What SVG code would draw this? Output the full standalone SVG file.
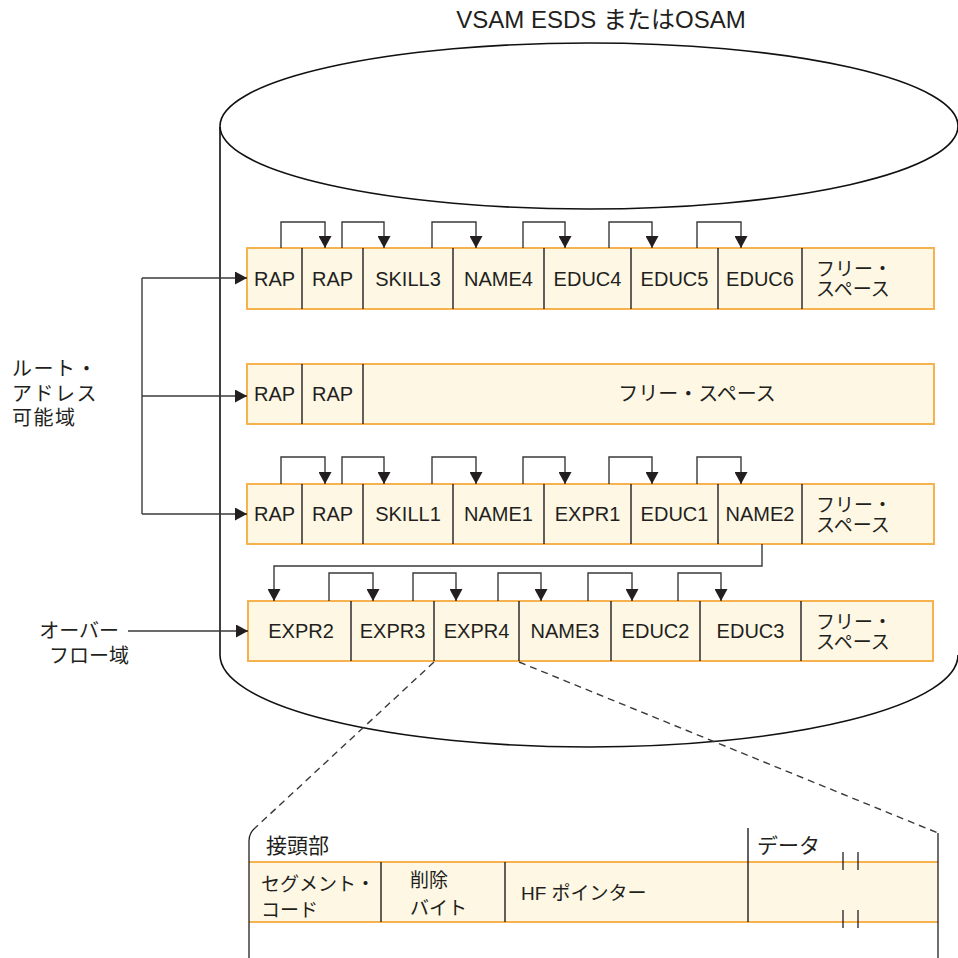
<svg xmlns="http://www.w3.org/2000/svg" width="958" height="958" viewBox="0 0 958 958">
<style>
text{font-family:"Liberation Sans","Noto Sans CJK JP",sans-serif;fill:#231f20}
.cell{font-size:20px;text-anchor:middle}
.jp{font-size:20px}
.fs{font-size:19px}
.box{fill:#fef7e4;stroke:#f5b24e;stroke-width:2}
.div{stroke:#231f20;stroke-width:1.4}
.cyl{fill:none;stroke:#111;stroke-width:1.6}
.conn path{fill:none;stroke:#3a3a3a;stroke-width:1.4}
.dash{fill:none;stroke:#231f20;stroke-width:1.2;stroke-dasharray:7 5}
.brk{fill:none;stroke:#231f20;stroke-width:1.3}
</style>
<defs>
<marker id="ah" markerWidth="12" markerHeight="13" refX="12" refY="6.5" orient="auto" markerUnits="userSpaceOnUse"><path d="M0,0 L12,6.5 L0,13 z" fill="#231f20"/></marker>
</defs>
<g id="title"><text x="601" y="28" font-size="24" text-anchor="middle">VSAM ESDS またはOSAM</text></g>
<g id="cylinder">
<path class="cyl" d="M220,127 V655 A369,92 0 0 0 958,655"/>
<ellipse class="cyl" cx="589" cy="126" rx="369" ry="83" fill="#fff"/>
</g>
<g id="row1">
<rect class="box" x="247" y="248" width="687" height="61"/>
<path class="div" d="M302,248V309M363,248V309M453,248V309M544,248V309M631,248V309M718,248V309M802,248V309"/>
<text class="cell" x="274.5" y="286">RAP</text>
<text class="cell" x="332.5" y="286">RAP</text>
<text class="cell" x="408" y="286">SKILL3</text>
<text class="cell" x="498.5" y="286">NAME4</text>
<text class="cell" x="587.5" y="286">EDUC4</text>
<text class="cell" x="674.5" y="286">EDUC5</text>
<text class="cell" x="760" y="286">EDUC6</text>
<text class="fs" x="816" y="276">フリー・</text>
<text class="fs" x="816" y="296">スペース</text>
</g>
<g id="row2">
<rect class="box" x="247" y="364" width="687" height="60"/>
<path class="div" d="M302,364V424M363,364V424"/>
<text class="cell" x="274.5" y="401">RAP</text>
<text class="cell" x="332.5" y="401">RAP</text>
<text class="jp" x="697" y="401" text-anchor="middle">フリー・スペース</text>
</g>
<g id="row3">
<rect class="box" x="247" y="484" width="687" height="60"/>
<path class="div" d="M302,484V544M363,484V544M453,484V544M544,484V544M631,484V544M718,484V544M802,484V544"/>
<text class="cell" x="274.5" y="521">RAP</text>
<text class="cell" x="332.5" y="521">RAP</text>
<text class="cell" x="408" y="521">SKILL1</text>
<text class="cell" x="498.5" y="521">NAME1</text>
<text class="cell" x="587.5" y="521">EXPR1</text>
<text class="cell" x="674.5" y="521">EDUC1</text>
<text class="cell" x="760" y="521">NAME2</text>
<text class="fs" x="816" y="512">フリー・</text>
<text class="fs" x="816" y="532">スペース</text>
</g>
<g id="row4">
<rect class="box" x="248" y="601" width="685" height="60"/>
<path class="div" d="M351,601V661M434,601V661M519,601V661M611,601V661M700,601V661M801,601V661"/>
<text class="cell" x="301" y="638">EXPR2</text>
<text class="cell" x="392.5" y="638">EXPR3</text>
<text class="cell" x="476.5" y="638">EXPR4</text>
<text class="cell" x="565" y="638">NAME3</text>
<text class="cell" x="655.5" y="638">EDUC2</text>
<text class="cell" x="750.5" y="638">EDUC3</text>
<text class="fs" x="816" y="629">フリー・</text>
<text class="fs" x="816" y="649">スペース</text>
</g>
<g id="label-root">
<text class="jp" x="12" y="376" letter-spacing="1.5">ルート・</text>
<text class="jp" x="12" y="401" letter-spacing="1.5">アドレス</text>
<text class="jp" x="12" y="425" letter-spacing="1.5">可能域</text>
</g>
<g id="label-overflow">
<text class="jp" x="119" y="638" text-anchor="end" font-size="19">オーバー</text>
<text class="jp" x="129" y="663" text-anchor="end" font-size="19">フロー域</text>
</g>
<g id="prefix-detail">
<rect x="249" y="862" width="689" height="60" fill="#fef7e4"/>
<path d="M249,862H938M249,922H938" stroke="#f5b24e" stroke-width="2" fill="none"/>
<path class="div" d="M381,862V922M505,862V922M748,828V922"/>
<path class="brk" d="M255,828 Q249,833 249,841 V958 M938,833 V958"/>
<path class="brk" d="M843,852V870M858,852V870M843,910V928M858,910V928"/>
<text x="266" y="853" font-size="21">接頭部</text>
<text x="757" y="853" font-size="21">データ</text>
<text x="261" y="891" font-size="19">セグメント・</text>
<text x="261" y="917" font-size="19">コード</text>
<text x="410" y="887" font-size="19">削除</text>
<text x="410" y="915" font-size="19">バイト</text>
<text x="521" y="900" font-size="19">HF ポインター</text>
</g>
<g class="conn" id="connectors">
<path d="M281,248V222H325V248" marker-end="url(#ah)"/>
<path d="M342,248V222H384V248" marker-end="url(#ah)"/>
<path d="M432,248V222H476V248" marker-end="url(#ah)"/>
<path d="M523,248V222H565V248" marker-end="url(#ah)"/>
<path d="M609,248V222H652V248" marker-end="url(#ah)"/>
<path d="M697,248V222H741V248" marker-end="url(#ah)"/>
<path d="M281,484V457H325V484" marker-end="url(#ah)"/>
<path d="M342,484V457H384V484" marker-end="url(#ah)"/>
<path d="M432,484V457H476V484" marker-end="url(#ah)"/>
<path d="M523,484V457H565V484" marker-end="url(#ah)"/>
<path d="M609,484V457H652V484" marker-end="url(#ah)"/>
<path d="M697,484V457H741V484" marker-end="url(#ah)"/>
<path d="M762,544V566H274V601" marker-end="url(#ah)"/>
<path d="M329,601V573H373V601" marker-end="url(#ah)"/>
<path d="M413,601V573H456V601" marker-end="url(#ah)"/>
<path d="M498,601V573H541V601" marker-end="url(#ah)"/>
<path d="M588,601V573H632V601" marker-end="url(#ah)"/>
<path d="M678,601V573H721V601" marker-end="url(#ah)"/>
<path d="M142,278V514"/>
<path d="M142,278H247" marker-end="url(#ah)"/>
<path d="M142,396H247" marker-end="url(#ah)"/>
<path d="M142,514H247" marker-end="url(#ah)"/>
<path d="M128,631H248" marker-end="url(#ah)"/>
<path class="dash" d="M434,662L255,828M519,662L938,833"/>
</g>
</svg>
